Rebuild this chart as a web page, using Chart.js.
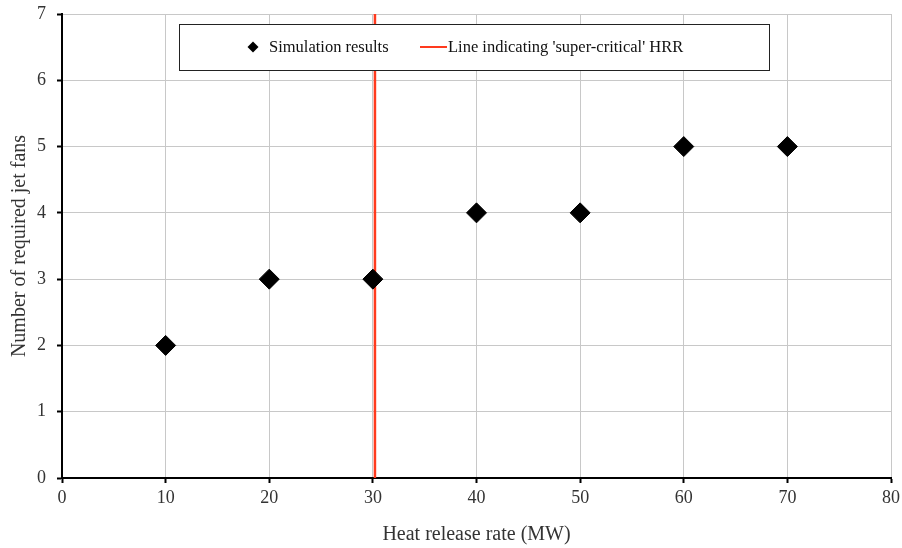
<!DOCTYPE html>
<html>
<head>
<meta charset="utf-8">
<script src="https://cdn.jsdelivr.net/npm/chart.js@4/dist/chart.umd.min.js"></script>
<style>
html,body{margin:0;padding:0;background:#fff;}
#wrap{width:902px;height:548px;}
</style>
</head>
<body>
<div id="wrap"><canvas id="c" width="902" height="548"></canvas></div>
<script>
const hrr = [10, 20, 30, 40, 50, 60, 70];
const jetFans = [2, 3, 3, 4, 4, 5, 5];
const criticalHRR = 30.2;
const criticalLineY = [0, 7];
const xTicks = [0, 10, 20, 30, 40, 50, 60, 70, 80];
const yTicks = [0, 1, 2, 3, 4, 5, 6, 7];
const seriesLabels = ["Simulation results", "Line indicating 'super-critical' HRR"];
const xTitle = "Heat release rate (MW)";
const yTitle = "Number of required jet fans";

const FONT = "'Liberation Serif', 'Times New Roman', serif";
const RED = '#ff3a1e';
const TXT = '#333';

const legendPlugin = {
  id: 'boxLegend',
  afterDatasetsDraw(chart) {
    const ctx = chart.ctx;
    const x0 = 179, y0 = 24, x1 = 770, y1 = 71;
    ctx.save();
    ctx.fillStyle = '#fff';
    ctx.fillRect(x0, y0, x1 - x0, y1 - y0);
    ctx.strokeStyle = '#222';
    ctx.lineWidth = 1;
    ctx.strokeRect(x0 + 0.5, y0 + 0.5, x1 - x0 - 1, y1 - y0 - 1);
    const cy = 47;
    ctx.fillStyle = '#000';
    ctx.beginPath();
    ctx.moveTo(253, cy - 5.5); ctx.lineTo(258.5, cy); ctx.lineTo(253, cy + 5.5); ctx.lineTo(247.5, cy);
    ctx.closePath(); ctx.fill();
    ctx.font = '16.5px ' + FONT;
    ctx.textBaseline = 'middle';
    ctx.fillStyle = '#111';
    ctx.fillText(seriesLabels[0], 269, cy + 1);
    ctx.strokeStyle = RED;
    ctx.lineWidth = 2;
    ctx.beginPath(); ctx.moveTo(420, cy); ctx.lineTo(447, cy); ctx.stroke();
    ctx.fillText(seriesLabels[1], 448, cy + 1);
    ctx.restore();
  }
};

new Chart(document.getElementById('c'), {
  type: 'scatter',
  data: {
    datasets: [
      {
        label: seriesLabels[1],
        data: criticalLineY.map(v => ({x: criticalHRR, y: v})),
        showLine: true,
        borderColor: RED,
        borderWidth: 2.5,
        pointRadius: 0,
        order: 2
      },
      {
        label: seriesLabels[0],
        data: hrr.map((v, i) => ({x: v, y: jetFans[i]})),
        pointStyle: 'rectRot',
        pointRadius: 10,
        pointHoverRadius: 10,
        backgroundColor: '#000',
        borderColor: '#000',
        borderWidth: 1,
        order: 1
      }
    ]
  },
  options: {
    responsive: false,
    animation: false,
    layout: {padding: {top: 14, right: 11, left: 0, bottom: 0}},
    plugins: {legend: {display: false}, tooltip: {enabled: false}},
    scales: {
      x: {
        type: 'linear', min: 0, max: 80,
        afterBuildTicks: s => { s.ticks = xTicks.map(v => ({value: v})); },
        afterFit: s => { s.height = 70; s.paddingLeft = 0; s.paddingRight = 0; },
        grid: {color: '#c8c8c8', lineWidth: 1, tickLength: 5, tickColor: '#000', tickWidth: 2},
        border: {color: '#000', width: 2},
        ticks: {color: TXT, font: {family: FONT, size: 18}, padding: 4, maxRotation: 0},
        title: {display: true, text: xTitle, color: TXT, font: {family: FONT, size: 20}, padding: {top: 0, bottom: 1}}
      },
      y: {
        type: 'linear', min: 0, max: 7,
        afterBuildTicks: s => { s.ticks = yTicks.map(v => ({value: v})); },
        afterFit: s => { s.width = 62; s.paddingTop = 0; s.paddingBottom = 0; },
        grid: {color: '#c8c8c8', lineWidth: 1, tickLength: 5, tickColor: '#000', tickWidth: 2},
        border: {color: '#000', width: 2},
        ticks: {color: TXT, font: {family: FONT, size: 18}, padding: 11},
        title: {display: true, text: yTitle, color: TXT, font: {family: FONT, size: 20}, padding: {top: 8, bottom: 0}}
      }
    }
  },
  plugins: [legendPlugin]
});
</script>
</body>
</html>
